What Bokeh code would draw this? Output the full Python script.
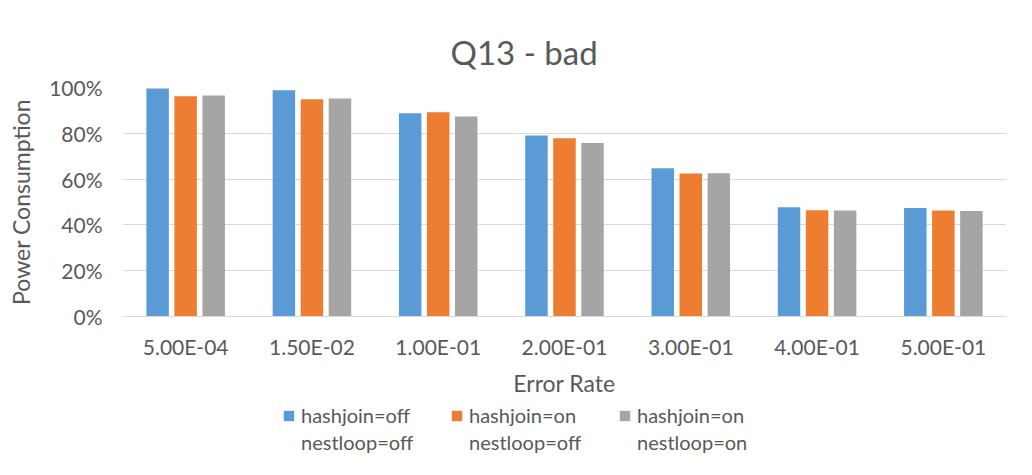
from bokeh.plotting import figure
from bokeh.layouts import column
from bokeh.models import (ColumnDataSource, FactorRange, Range1d, Legend, LegendItem,
                          NumeralTickFormatter, Title)
from bokeh.transform import dodge
from bokeh.embed import file_html
from bokeh.resources import INLINE

# ---- data ----
categories = ["5.00E-04", "1.50E-02", "1.00E-01", "2.00E-01", "3.00E-01", "4.00E-01", "5.00E-01"]
hash_off_nest_off = [0.996, 0.988, 0.888, 0.790, 0.647, 0.477, 0.474]
hash_on_nest_off = [0.962, 0.949, 0.892, 0.778, 0.625, 0.464, 0.463]
hash_on_nest_on = [0.965, 0.952, 0.873, 0.758, 0.626, 0.463, 0.461]
label_line1 = ["hashjoin=off", "hashjoin=on", "hashjoin=on"]
label_line2 = ["nestloop=off", "nestloop=off", "nestloop=on"]
y_ticks = [0, 0.2, 0.4, 0.6, 0.8, 1.0]

colors = ["#5B9BD5", "#ED7D31", "#A5A5A5"]
FONT = "Lato"
TXT = "#595959"

source = ColumnDataSource(data=dict(cat=categories, s1=hash_off_nest_off,
                                    s2=hash_on_nest_off, s3=hash_on_nest_on))

p = figure(frame_width=884, frame_height=229, x_range=FactorRange(*categories), y_range=Range1d(0, 1),
           output_backend="svg", toolbar_location=None,
           min_border_left=122, min_border_right=24, min_border_top=87, min_border_bottom=82)
p.outline_line_color = None

p.title = Title(text="Q13 - bad", align="left", offset=328, text_font=FONT,
                text_font_size="33px", text_font_style="normal", text_color=TXT, standoff=31)

for key, off, col in zip(["s1", "s2", "s3"], [-0.222, 0.0, 0.222], colors):
    p.vbar(x=dodge("cat", off, range=p.x_range), top=key, width=0.178, source=source,
           fill_color=col, line_color=None)

# axes
p.yaxis.ticker = y_ticks
p.yaxis.formatter = NumeralTickFormatter(format="0%")
p.yaxis.axis_line_color = None
p.yaxis.major_tick_line_color = None
p.yaxis.major_tick_out = 0
p.yaxis.minor_tick_out = 0
p.yaxis.minor_tick_line_color = None
p.yaxis.major_label_standoff = 20
p.yaxis.axis_label = "Power Consumption"
p.yaxis.axis_label_standoff = 11
p.xaxis.axis_label = "Error Rate"
p.xaxis.axis_line_color = "#D9D9D9"
p.xaxis.axis_line_width = 1
p.xaxis.major_tick_line_color = None
p.xaxis.minor_tick_line_color = None
p.xaxis.major_tick_out = 0
p.xaxis.minor_tick_out = 0
p.xaxis.major_label_standoff = 17
p.xaxis.axis_label_standoff = 7
for ax in (p.xaxis, p.yaxis):
    ax.major_label_text_font = FONT
    ax.major_label_text_font_size = "21px"
    ax.major_label_text_color = TXT
    ax.axis_label_text_font = FONT
    ax.axis_label_text_font_size = "23px"
    ax.axis_label_text_font_style = "normal"
    ax.axis_label_text_color = TXT

p.xgrid.grid_line_color = None
p.ygrid.grid_line_color = "#D9D9D9"
p.ygrid.grid_line_width = 1

# ---- legend strip (separate figure below the chart) ----
# same categorical x range; y range lies above the data so the swatch bars stay out of view
pl = figure(frame_width=884, frame_height=60, x_range=FactorRange(*categories), y_range=Range1d(2, 3),
            output_backend="svg", toolbar_location=None,
            x_axis_location=None, y_axis_location=None,
            min_border_left=122, min_border_right=24, min_border_top=0, min_border_bottom=0)
pl.outline_line_color = None
pl.xgrid.visible = False
pl.ygrid.visible = False

swatches = [pl.vbar(x="cat", top=key, width=0.178, source=source, fill_color=col, line_color=None)
            for key, col in zip(["s1", "s2", "s3"], colors)]
blank = pl.vbar(x="cat", top="s1", width=0.178, source=source, fill_color=None, line_color=None)

common = dict(orientation="horizontal",
              glyph_width=13, glyph_height=13, label_standoff=6, spacing=28,
              label_width=121, label_height=20,
              padding=0, margin=0, border_line_color=None, background_fill_alpha=0,
              label_text_font=FONT, label_text_font_size="20px", label_text_color=TXT)
legend1 = Legend(items=[LegendItem(label=lab, renderers=[r]) for lab, r in zip(label_line1, swatches)],
                 location=(160, 32), **common)
legend2 = Legend(items=[LegendItem(label=lab, renderers=[blank]) for lab in label_line2],
                 location=(160, 5), **common)
pl.add_layout(legend1, "center")
pl.add_layout(legend2, "center")

layout = column(p, pl, spacing=0)
open("out.html", "w").write(file_html(layout, INLINE))
